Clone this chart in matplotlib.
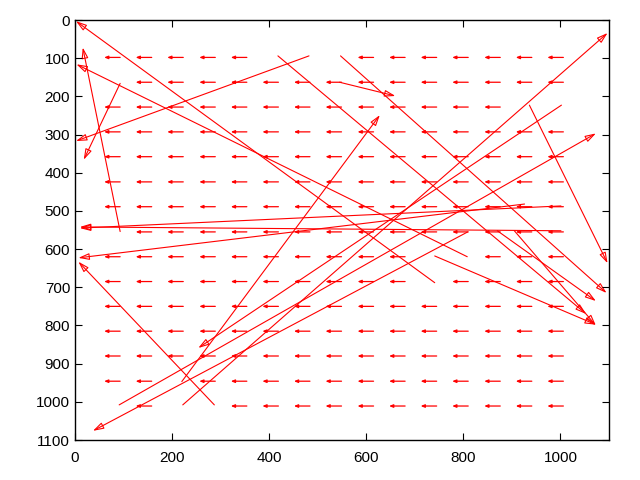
import matplotlib
matplotlib.use("Agg")
import matplotlib.pyplot as plt
from matplotlib.patches import FancyArrowPatch

plt.rcParams['font.family'] = ['Liberation Sans', 'DejaVu Sans']

# grid of short vectors: head positions, tail offset
grid_x = [60, 125, 190, 256, 321, 386, 451, 516, 582, 647, 712, 777, 843, 908, 973]
grid_y = [98, 163, 228, 293, 358, 424, 489, 555, 620, 685, 750, 815, 880, 946, 1011]
short_dx = 33
# columns present in each row
row_cols = [
    [0, 1, 2, 3, 4, 8, 9, 10, 11, 12, 13, 14],
    list(range(1, 15)),
    list(range(0, 13)),
    list(range(0, 15)),
    list(range(0, 15)),
    list(range(0, 15)),
    list(range(0, 15)),
    list(range(1, 15)),
    [0, 1, 2, 3, 4, 5, 6, 7, 8, 9, 12, 13, 14],
    [0, 1, 2, 3, 4, 5, 6, 7, 8, 9, 11, 12, 13, 14],
    list(range(0, 15)),
    list(range(0, 15)),
    list(range(0, 15)),
    [0, 1, 3, 4, 5, 6, 7, 8, 9, 10, 11, 12, 13, 14],
    [1, 4, 5, 6, 7, 8, 9, 10, 11, 12, 13, 14],
]

# long vectors (tail -> head)
long_tx = [741, 808, 926, 287, 809, 1002, 93, 93, 482, 936, 547, 545, 741, 1001, 1001, 222, 91, 220, 418, 870, 905]
long_ty = [688, 620, 482, 1008, 555, 223, 554, 166, 94, 223, 94, 163, 618, 487, 552, 1008, 1008, 947, 94, 552, 552]
long_hx = [2, 3, 7, 7, 37, 254, 16, 18, 2, 1097, 1095, 660, 1073, 10, 10, 1097, 1073, 628, 1053, 1073, 1073]
long_hy = [3, 116, 623, 633, 1076, 859, 72, 366, 317, 637, 715, 199, 798, 545, 542, 34, 297, 249, 770, 736, 800]

fig = plt.figure(figsize=(6.4, 4.8), dpi=100)
ax = fig.add_axes([75/640, 40/480, 534/640, 420/480])
ax.set_xlim(0, 1100)
ax.set_ylim(1100, 0)

red = '#ff0000'
for j, cols in enumerate(row_cols):
    for i in cols:
        hx, hy = grid_x[i], grid_y[j]
        p = FancyArrowPatch((hx + short_dx, hy), (hx, hy),
                            arrowstyle='-|>,head_length=0.22,head_width=0.09',
                            mutation_scale=10, color=red, lw=0.9,
                            shrinkA=0, shrinkB=0)
        ax.add_patch(p)

for tx, ty, hx, hy in zip(long_tx, long_ty, long_hx, long_hy):
    p = FancyArrowPatch((tx, ty), (hx, hy),
                        arrowstyle='-|>,head_length=0.65,head_width=0.2',
                        mutation_scale=10, edgecolor=red, facecolor='none',
                        fill=False, lw=0.8, shrinkA=0, shrinkB=0)
    ax.add_patch(p)

ax.set_xticks(range(0, 1001, 200))
ax.set_yticks(range(0, 1101, 100))
ax.tick_params(direction='in', top=True, right=True, length=5, labelsize=11)
ax.tick_params(axis='x', pad=8)
for s in ax.spines.values():
    s.set_linewidth(1.0)

fig.savefig('out.png', dpi=100)
